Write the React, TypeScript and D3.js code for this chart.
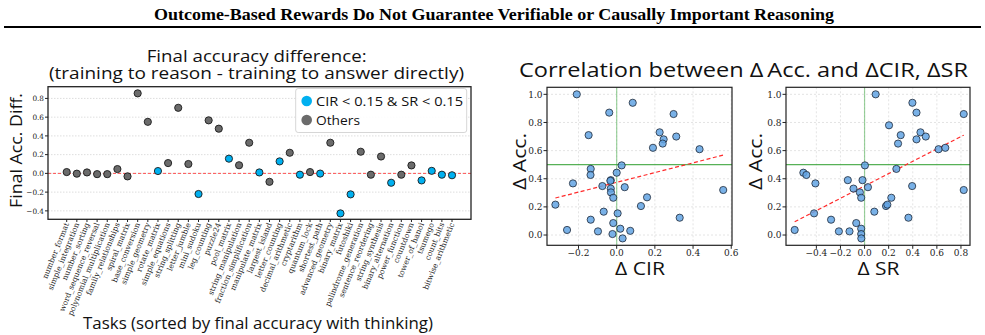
import * as d3 from "d3";

const tasks = [
  "number_format", "simple_integration", "number_sorting", "word_sequence_reversal",
  "polynomial_multiplication", "family_relationships", "spiral_matrix", "base_conversion",
  "simple_geometry", "rotate_matrix", "simple_equations", "string_splitting", "letter_jumble",
  "mini_sudoku", "leg_counting", "puzzle24", "pool_matrix", "string_manipulation",
  "fraction_simplification", "manipulate_matrix", "largest_island", "letter_counting",
  "decimal_arithmetic", "cryptarithm", "quantum_lock", "shortest_path", "advanced_geometry",
  "binary_matrix", "futoshiki", "palindrome_generation", "sentence_reordering",
  "string_synthesis", "binary_alternation", "power_function", "countdown", "tower_of_hanoi",
  "tsumego", "count_bits", "bitwise_arithmetic",
];

const accDiff = [
  0.014, -0.003, 0.01, -0.008, -0.008, 0.046, -0.032, 0.854, 0.55, 0.025, 0.11, 0.70, 0.10,
  -0.22, 0.566, 0.477, 0.157, 0.087, 0.327, 0.01, -0.09, 0.128, 0.22, -0.014, 0.014, -0.002,
  0.327, -0.427, -0.224, 0.231, -0.014, 0.18, -0.10, -0.014, 0.085, -0.075, 0.027, -0.014, -0.02,
];

// "low" = CIR < 0.15 & SR < 0.15
const taskGroup = [
  "other", "other", "other", "other", "other", "other", "other", "other", "other", "low",
  "other", "other", "other", "low", "other", "other", "low", "other", "other", "low",
  "other", "low", "other", "low", "other", "low", "other", "low", "low", "other",
  "other", "other", "low", "other", "other", "low", "low", "low", "low",
];

const accTicks = [-0.4, -0.2, 0, 0.2, 0.4, 0.6, 0.8];

const cirDelta = [
  -0.209, 0.084, -0.039, 0.298, -0.147, 0.225, 0.312, 0.246, 0.241, 0.19, 0.434, 0.026, -0.136,
  -0.137, 0.0, -0.229, -0.031, -0.033, -0.075, -0.031, 0.042, -0.03, -0.018, 0.159, 0.558,
  -0.321, 0.127, -0.068, 0.005, 0.33, -0.136, -0.018, 0.019, -0.26, -0.098, 0.071, -0.022, 0.031,
];
const accVsCir = [
  1.0, 0.94, 0.87, 0.86, 0.71, 0.73, 0.70, 0.68, 0.65, 0.62, 0.61, 0.495, 0.47, 0.427, 0.443,
  0.367, 0.39, 0.385, 0.348, 0.33, 0.34, 0.303, 0.265, 0.268, 0.32, 0.216, 0.206, 0.166, 0.154,
  0.123, 0.109, 0.085, 0.045, 0.036, 0.026, 0.03, 0.007, -0.024,
];

const srDelta = [
  0.092, 0.397, 0.431, 0.823, 0.203, 0.30, 0.464, 0.508, 0.431, 0.278, 0.614, 0.67, 0.003, 0.264,
  -0.508, -0.483, -0.408, -0.139, -0.017, -0.092, 0.028, 0.395, -0.039, -0.028, 0.222, 0.823,
  -0.419, 0.081, 0.178, 0.189, 0.364, -0.278, -0.069, -0.58, -0.213, -0.125, -0.028, -0.028, -0.027,
];
const accVsSr = [
  1.0, 0.94, 0.87, 0.86, 0.78, 0.71, 0.73, 0.70, 0.68, 0.65, 0.61, 0.62, 0.495, 0.47, 0.443,
  0.427, 0.367, 0.39, 0.39, 0.33, 0.34, 0.348, 0.303, 0.265, 0.265, 0.32, 0.154, 0.166, 0.206,
  0.216, 0.123, 0.109, 0.085, 0.036, 0.026, 0.026, 0.045, 0.007, -0.024,
];

const deltaAccTicks = [0, 0.2, 0.4, 0.6, 0.8, 1.0];
const cirTicks = [-0.2, 0, 0.2, 0.4, 0.6];
const srTicks = [-0.4, -0.2, 0, 0.2, 0.4, 0.6, 0.8];

const SANS = "'Open Sans', Lato, sans-serif";
const SERIF = "'DejaVu Serif', serif";
const fmt = (v: number) => d3.format(".1f")(v).replace("-", "\u2212");

// least squares fit over the x extent of the points
function fitLine(xs: number[], ys: number[]) {
  const mx = d3.mean(xs)!;
  const my = d3.mean(ys)!;
  let num = 0;
  let den = 0;
  xs.forEach((x, i) => {
    num += (x - mx) * (ys[i] - my);
    den += (x - mx) * (x - mx);
  });
  const slope = num / den;
  const [x0, x1] = d3.extent(xs) as [number, number];
  return [
    [x0, my + slope * (x0 - mx)],
    [x1, my + slope * (x1 - mx)],
  ];
}

function Scatter({ xs, ys, xDomain, xRange, xTicks, xLabel, xLabelW, labelX }: {
  xs: number[]; ys: number[]; xDomain: [number, number]; xRange: [number, number];
  xTicks: number[]; xLabel: string; xLabelW: number; labelX: number;
}) {
  const x = d3.scaleLinear().domain(xDomain).range(xRange);
  const y = d3.scaleLinear().domain([-0.073, 1.05]).range([245.3, 87.3]);
  const [top, bottom] = [y.range()[1], y.range()[0]];
  const fit = fitLine(xs, ys);
  const line = d3.line<number[]>().x((d) => x(d[0])).y((d) => y(d[1]));
  return (
    <g>
      {deltaAccTicks.map((t) => (
        <line key={"gy" + t} x1={xRange[0]} x2={xRange[1]} y1={y(t)} y2={y(t)}
          stroke="#d8d8d8" strokeWidth={0.7} strokeDasharray="2,2" />
      ))}
      {xTicks.map((t) => (
        <line key={"gx" + t} x1={x(t)} x2={x(t)} y1={top} y2={bottom}
          stroke="#d8d8d8" strokeWidth={0.7} strokeDasharray="2,2" />
      ))}
      <line x1={x(0)} x2={x(0)} y1={top} y2={bottom} stroke="#4caf50" strokeOpacity={0.55} strokeWidth={1.2} />
      <line x1={xRange[0]} x2={xRange[1]} y1={y(0.5)} y2={y(0.5)} stroke="#3aa33a" strokeOpacity={0.85} strokeWidth={1.2} />
      <path d={line(fit) ?? ""} stroke="#ff2a2a" strokeWidth={1.2} strokeDasharray="4,2.5" fill="none" />
      {xs.map((v, i) => (
        <circle key={i} cx={x(v)} cy={y(ys[i])} r={3.6} fill="#62a3e3" fillOpacity={0.85}
          stroke="#1f2a38" strokeWidth={0.8} />
      ))}
      <rect x={xRange[0]} y={top} width={xRange[1] - xRange[0]} height={bottom - top}
        fill="none" stroke="#222" strokeWidth={1.2} />
      {deltaAccTicks.map((t) => (
        <g key={"ty" + t}>
          <line x1={xRange[0] - 3.5} x2={xRange[0]} y1={y(t)} y2={y(t)} stroke="#222" />
          <text x={xRange[0] - 4.5} y={y(t) + 3.3} textAnchor="end" fontFamily={SERIF} fontSize={9} fill="#222">
            {fmt(t)}
          </text>
        </g>
      ))}
      {xTicks.map((t) => (
        <g key={"tx" + t}>
          <line x1={x(t)} x2={x(t)} y1={bottom} y2={bottom + 3.5} stroke="#222" />
          <text x={x(t)} y={bottom + 10.5} textAnchor="middle" fontFamily={SERIF} fontSize={9} fill="#222">
            {fmt(t)}
          </text>
        </g>
      ))}
      <text x={labelX} y={161.5} transform={`rotate(-90, ${labelX}, 161.5)`} textAnchor="middle"
        fontFamily={SANS} fontSize={18} textLength={57} lengthAdjust="spacingAndGlyphs" fill="#111">
        {"\u0394 Acc."}
      </text>
      <text x={(xRange[0] + xRange[1]) / 2 + 0.5} y={275} textAnchor="middle" fontFamily={SANS} fontSize={18}
        textLength={xLabelW} lengthAdjust="spacingAndGlyphs" fill="#111">
        {xLabel}
      </text>
    </g>
  );
}

export default function App() {
  const x = d3.scalePoint<string>().domain(tasks).range([66.7, 452]);
  const y = d3.scaleLinear().domain([-0.49, 0.925]).range([219.3, 86.7]);
  const left = 48;
  const right = 471;
  const color = (g: string) => (g === "low" ? "#00b0f0" : "#6b6b6b");

  return (
    <svg width={985} height={335} style={{ position: "absolute", left: 0, top: 0, background: "#fff" }}>
      <rect width={985} height={335} fill="#fff" />
      <text x={494} y={20} textAnchor="middle" fontFamily="'Liberation Serif', serif" fontWeight="bold"
        fontSize={16} textLength={680} lengthAdjust="spacingAndGlyphs" fill="#000">
        Outcome-Based Rewards Do Not Guarantee Verifiable or Causally Important Reasoning
      </text>
      <line x1={4} x2={981} y1={27} y2={27} stroke="#000" strokeWidth={2} />

      {/* left panel */}
      <text x={256.7} y={62} textAnchor="middle" fontFamily={SANS} fontSize={15.5}
        textLength={220} lengthAdjust="spacingAndGlyphs" fill="#111">
        Final accuracy difference:
      </text>
      <text x={256.5} y={79} textAnchor="middle" fontFamily={SANS} fontSize={15.5}
        textLength={415} lengthAdjust="spacingAndGlyphs" fill="#111">
        (training to reason - training to answer directly)
      </text>
      {accTicks.map((t) => (
        <line key={"g" + t} x1={left} x2={right} y1={y(t)} y2={y(t)} stroke="#d0d0d0"
          strokeWidth={0.7} strokeDasharray="1.5,1.5" />
      ))}
      <line x1={left} x2={right} y1={y(0)} y2={y(0)} stroke="#ff4040" strokeWidth={0.9} strokeDasharray="3,2" />
      {tasks.map((t, i) => (
        <circle key={t} cx={x(t)} cy={y(accDiff[i])} r={3.6} fill={color(taskGroup[i])}
          stroke="#1a1a1a" strokeWidth={0.9} />
      ))}
      <rect x={left} y={86.7} width={right - left} height={219.3 - 86.7} fill="none" stroke="#222" strokeWidth={1.3} />
      {accTicks.map((t) => (
        <g key={"t" + t}>
          <line x1={left - 3} x2={left} y1={y(t)} y2={y(t)} stroke="#222" />
          <text x={left - 4} y={y(t) + 2.7} textAnchor="end" fontFamily={SERIF} fontSize={7.3} fill="#222">
            {fmt(t)}
          </text>
        </g>
      ))}
      {tasks.map((t) => (
        <g key={"xl" + t}>
          <line x1={x(t)} x2={x(t)} y1={219.3} y2={222} stroke="#222" />
          <text transform={`translate(${x(t)! + 2.5}, 224) rotate(-68)`} textAnchor="end"
            fontFamily={SERIF} fontSize={7.6} fill="#222">
            {t}
          </text>
        </g>
      ))}
      <text x={22} y={150.5} transform="rotate(-90, 22, 150.5)" textAnchor="middle" fontFamily={SANS} fontSize={17}
        textLength={115} lengthAdjust="spacingAndGlyphs" fill="#111">
        Final Acc. Diff.
      </text>
      <text x={258} y={329} textAnchor="middle" fontFamily={SANS} fontSize={15.5}
        textLength={350} lengthAdjust="spacingAndGlyphs" fill="#111">
        Tasks (sorted by final accuracy with thinking)
      </text>

      {/* legend */}
      <rect x={295.7} y={88.5} width={171} height={44} rx={2.5} fill="#fff" fillOpacity={0.9}
        stroke="#cccccc" strokeWidth={0.8} />
      <circle cx={306.7} cy={101} r={5.3} fill="#00b0f0" />
      <text x={316} y={105.8} fontFamily={SANS} fontSize={13.5} textLength={147} lengthAdjust="spacingAndGlyphs"
        fill="#111">{"CIR < 0.15 & SR < 0.15"}</text>
      <circle cx={306.7} cy={120} r={5.3} fill="#6b6b6b" />
      <text x={316} y={124.8} fontFamily={SANS} fontSize={13.5} textLength={44} lengthAdjust="spacingAndGlyphs"
        fill="#111">Others</text>

      {/* right panels */}
      <text x={743.5} y={77} textAnchor="middle" fontFamily={SANS} fontSize={20} textLength={449}
        lengthAdjust="spacingAndGlyphs" fill="#111">
        {"Correlation between \u0394\u2009Acc. and \u0394CIR, \u0394SR"}
      </text>
      <Scatter xs={cirDelta} ys={accVsCir} xDomain={[-0.365, 0.604]} xRange={[547, 732]}
        xTicks={cirTicks} xLabel={"\u0394 CIR"} xLabelW={50} labelX={526} />
      <Scatter xs={srDelta} ys={accVsSr} xDomain={[-0.652, 0.875]} xRange={[786, 970]}
        xTicks={srTicks} xLabel={"\u0394 SR"} xLabelW={42} labelX={762} />

      <text x={756} y={345} textAnchor="middle" fontFamily="'Liberation Serif', serif" fontWeight="bold"
        fontSize={15} textLength={342} lengthAdjust="spacingAndGlyphs" fill="#d4d4d4">
        Correlation between changes in final accuracy and reasoning metrics
      </text>
    </svg>
  );
}
